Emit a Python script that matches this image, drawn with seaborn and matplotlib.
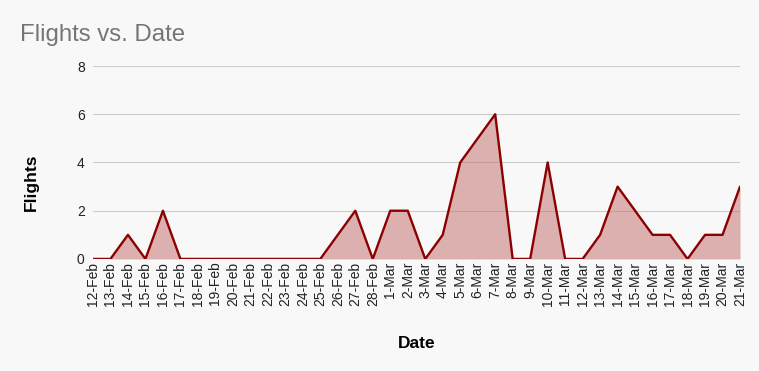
import numpy as np
import pandas as pd
import seaborn as sns
import matplotlib.pyplot as plt

dates = ['12-Feb', '13-Feb', '14-Feb', '15-Feb', '16-Feb', '17-Feb', '18-Feb', '19-Feb',
         '20-Feb', '21-Feb', '22-Feb', '23-Feb', '24-Feb', '25-Feb', '26-Feb', '27-Feb',
         '28-Feb', '1-Mar', '2-Mar', '3-Mar', '4-Mar', '5-Mar', '6-Mar', '7-Mar', '8-Mar',
         '9-Mar', '10-Mar', '11-Mar', '12-Mar', '13-Mar', '14-Mar', '15-Mar', '16-Mar',
         '17-Mar', '18-Mar', '19-Mar', '20-Mar', '21-Mar']
flights = [0, 0, 1, 0, 2, 0, 0, 0,
           0, 0, 0, 0, 0, 0, 1, 2,
           0, 2, 2, 0, 1, 4, 5, 6, 0,
           0, 4, 0, 0, 1, 3, 2, 1,
           1, 0, 1, 1, 3]

line_color = '#8b0000'
bg = '#f8f8f8'

sns.set_style('white')
plt.rcParams['font.family'] = ['Liberation Sans', 'DejaVu Sans']

df = pd.DataFrame({'idx': np.arange(len(dates)), 'Flights': flights})

fig = plt.figure(figsize=(7.59, 3.71), dpi=100, facecolor=bg)
ax = fig.add_axes([0.1225, 0.302, 0.8525, 0.52])
ax.set_facecolor(bg)

# shaded area under the line
ax.fill_between(df['idx'], df['Flights'], 0, color='#c46a6a', alpha=0.5, linewidth=0, zorder=2)
sns.lineplot(data=df, x='idx', y='Flights', color=line_color, linewidth=1.7, ax=ax, zorder=3)

ax.set_xlim(0, len(dates) - 1)
ax.set_ylim(0, 8)
ax.set_yticks([0, 2, 4, 6, 8])
ax.set_xticks(df['idx'])
ax.set_xticklabels(dates, rotation=90, fontsize=10, color='#222222')
ax.tick_params(axis='y', labelsize=10, colors='#222222', length=0, pad=6)
ax.tick_params(axis='x', length=0, pad=2)
ax.grid(axis='y', color='#cccccc', linewidth=0.8, zorder=0)
for s in ax.spines.values():
    s.set_visible(False)

ax.set_xlabel('Date', fontsize=12.5, fontweight='bold', color='black')
ax.xaxis.set_label_coords(0.5, -0.40)
ax.set_ylabel('Flights', fontsize=12.5, fontweight='bold', color='black')
ax.yaxis.set_label_coords(-0.083, 0.40)

fig.text(0.026, 0.905, 'Flights vs. Date', fontsize=17.3, color='#757575', ha='left', va='center')

fig.savefig('out.png', dpi=100, facecolor=bg)
